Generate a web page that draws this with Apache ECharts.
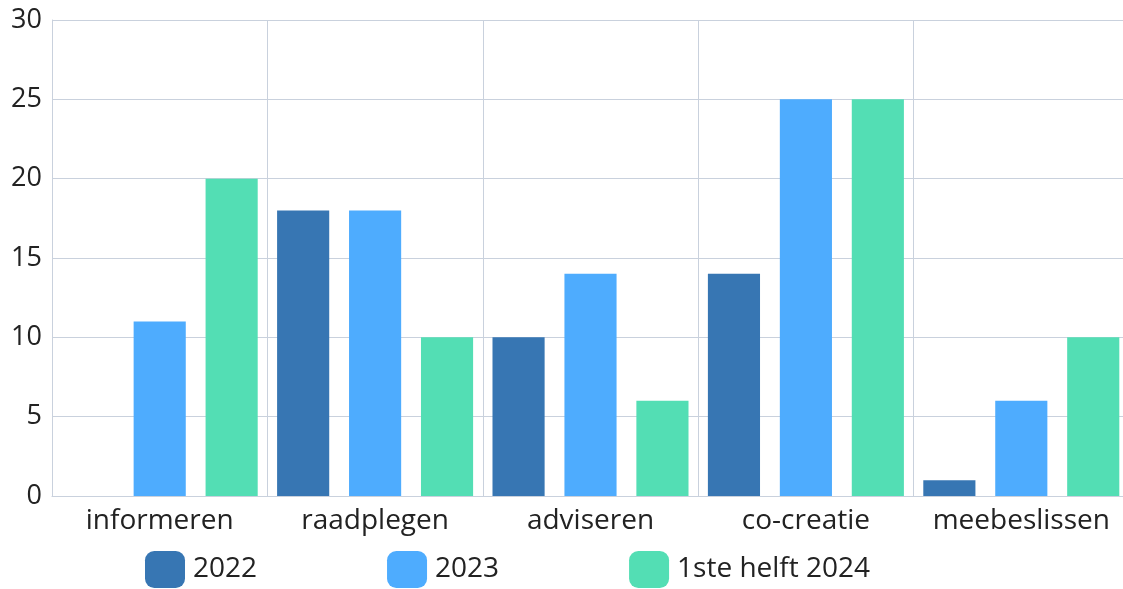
<!DOCTYPE html>
<html>
<head>
<meta charset="utf-8">
<script src="https://cdn.jsdelivr.net/npm/echarts@6/dist/echarts.min.js"></script>
<style>
  html, body { margin: 0; padding: 0; background: #fff }
  #chart { width: 1123px; height: 589px }
</style>
</head>
<body>
<div id="chart"></div>
<script>
const categories = ['informeren', 'raadplegen', 'adviseren', 'co-creatie', 'meebeslissen']
const seriesNames = ['2022', '2023', '1ste helft 2024']
const values2022 = [0, 18, 10, 14, 1]
const values2023 = [11, 18, 14, 25, 6]
const values2024 = [20, 10, 6, 25, 10]
const colors = ['#3776b3', '#4eacfe', '#53deb4']

const font = 'Open Sans'
const gridColor = '#c9d1dd'

const chart = echarts.init(document.getElementById('chart'))
chart.setOption({
  animation: false,
  textStyle: { fontFamily: font },
  grid: { left: 52, right: -6, top: 20, bottom: 93, outerBoundsMode: 'none' },
  legend: {
    left: 145, top: 551, padding: 0,
    itemWidth: 40, itemHeight: 37, itemGap: 130,
    icon: 'roundRect',
    textStyle: { fontSize: 28, color: '#222', fontFamily: font, padding: [2, 0, 0, 3] },
    data: seriesNames,
  },
  xAxis: {
    type: 'category',
    data: categories,
    axisLine: { lineStyle: { color: gridColor } },
    axisTick: { show: false },
    splitLine: { show: true, interval: 0, lineStyle: { color: gridColor } },
    axisLabel: { fontSize: 28, color: '#222', margin: 11, interval: 0 },
  },
  yAxis: {
    type: 'value', min: 0, max: 30, interval: 5,
    axisLine: { show: true, lineStyle: { color: gridColor } },
    splitLine: { lineStyle: { color: gridColor } },
    axisLabel: { fontSize: 27, color: '#222', margin: 10 },
  },
  series: [
    { name: seriesNames[0], type: 'bar', data: values2022, itemStyle: { color: colors[0] }, barGap: '38%', barCategoryGap: '9%' },
    { name: seriesNames[1], type: 'bar', data: values2023, itemStyle: { color: colors[1] } },
    { name: seriesNames[2], type: 'bar', data: values2024, itemStyle: { color: colors[2] } },
  ],
})
</script>
</body>
</html>
